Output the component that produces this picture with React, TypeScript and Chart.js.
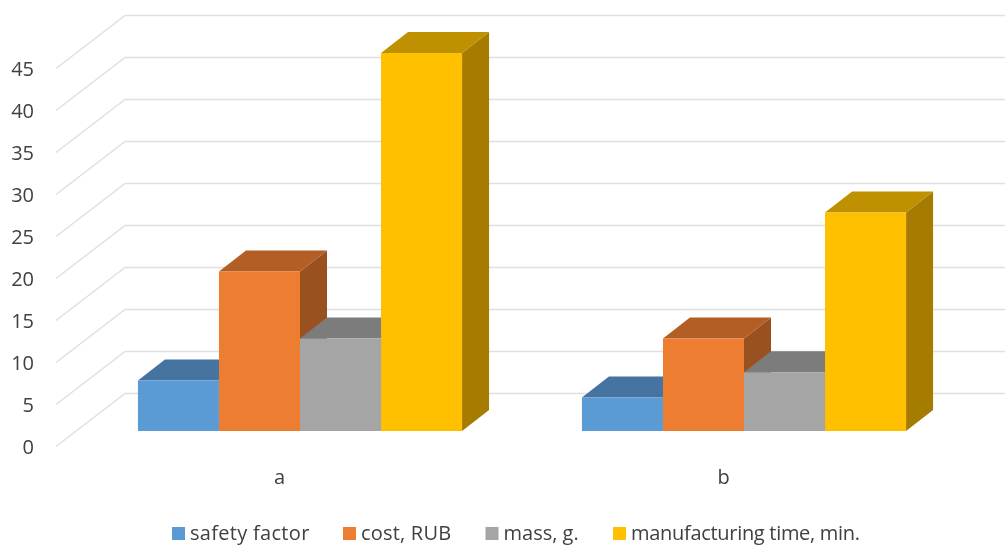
import React, { useEffect, useRef } from "react";
import { Chart, registerables } from "chart.js";

Chart.register(...registerables);

const categories = ["a", "b"];
const safetyFactor = [6, 4];
const costRub = [19, 11];
const massG = [11, 7];
const manufacturingTime = [45, 26];

const seriesLabels = ["safety factor", "cost, RUB", "mass, g.", "manufacturing time, min."];
const frontColors = ["#5B9BD5", "#ED7D31", "#A5A5A5", "#FFC000"];
const topColors = ["#44749F", "#B25E25", "#7C7C7C", "#BF9000"];
const sideColors = ["#3B658B", "#9A5120", "#6B6B6B", "#A67C00"];

const FONT = '"Open Sans", sans-serif';
const TEXT = "#404040";
const FONT_SIZE = 20;

// Oblique projection of the chart box
const BAR_DEPTH_X = 27;
const BAR_DEPTH_Y = -21;
const FLOOR_FRONT_DY = 15.5;
const WALL_BACK_DY = -37.5;
const WALL_LEFT = 56;
const WALL_BACK_X = 125;

// Left edge of each legend swatch and the tracking of its text
const LEGEND_X = [172, 343, 485.5, 613];
const LEGEND_TRACKING = ["0.3px", "0.2px", "0px", "-0.3px"];

const boxFrame = {
  id: "boxFrame",
  beforeDatasetsDraw(chart: any) {
    const { ctx, width } = chart;
    const y = chart.scales.y;
    ctx.save();
    ctx.strokeStyle = "#E0E0E0";
    ctx.lineWidth = 1.5;
    y.ticks.forEach((t: any) => {
      const py = y.getPixelForValue(t.value);
      ctx.beginPath();
      ctx.moveTo(WALL_LEFT, py + FLOOR_FRONT_DY);
      ctx.lineTo(WALL_BACK_X, py + WALL_BACK_DY);
      ctx.lineTo(width, py + WALL_BACK_DY);
      ctx.stroke();
    });

    // Top and right faces of each column, left to right
    const count = chart.data.labels.length;
    for (let c = 0; c < count; c++) {
      chart.data.datasets.forEach((_: any, d: number) => {
        const bar = chart.getDatasetMeta(d).data[c];
        const l = bar.x - bar.width / 2;
        const r = bar.x + bar.width / 2;
        const t = bar.y;
        const b = bar.base;
        ctx.fillStyle = sideColors[d];
        ctx.beginPath();
        ctx.moveTo(r, t);
        ctx.lineTo(r + BAR_DEPTH_X, t + BAR_DEPTH_Y);
        ctx.lineTo(r + BAR_DEPTH_X, b + BAR_DEPTH_Y);
        ctx.lineTo(r, b);
        ctx.closePath();
        ctx.fill();
        ctx.fillStyle = topColors[d];
        ctx.beginPath();
        ctx.moveTo(l, t);
        ctx.lineTo(l + BAR_DEPTH_X, t + BAR_DEPTH_Y);
        ctx.lineTo(r + BAR_DEPTH_X, t + BAR_DEPTH_Y);
        ctx.lineTo(r, t);
        ctx.closePath();
        ctx.fill();
      });
    }
    ctx.restore();
  },
};

// Legend row with a tighter swatch-to-text gap than the stock legend allows
const legendRow = {
  id: "legendRow",
  afterDraw(chart: any) {
    const { ctx } = chart;
    ctx.save();
    ctx.font = `${FONT_SIZE}px ${FONT}`;
    ctx.textBaseline = "middle";
    ctx.textAlign = "left";
    chart.data.datasets.forEach((ds: any, i: number) => {
      const x = LEGEND_X[i];
      ctx.fillStyle = ds.backgroundColor;
      ctx.fillRect(x, 527, 13, 13);
      ctx.fillStyle = TEXT;
      ctx.letterSpacing = LEGEND_TRACKING[i];
      ctx.fillText(ds.label, x + 18, 534);
    });
    ctx.restore();
  },
};

export default function App() {
  const ref = useRef<HTMLCanvasElement>(null);
  useEffect(() => {
    const values = [safetyFactor, costRub, massG, manufacturingTime];
    const chart = new Chart(ref.current!, {
      type: "bar",
      data: {
        labels: categories,
        datasets: seriesLabels.map((label, i) => ({
          label,
          data: values[i],
          backgroundColor: frontColors[i],
          categoryPercentage: 0.73,
          barPercentage: 1,
          borderWidth: 0,
        })),
      },
      options: {
        responsive: false,
        animation: false,
        layout: { padding: { top: 53, right: 39, left: 0, bottom: 0 } },
        plugins: { legend: { display: false }, tooltip: { enabled: false } },
        scales: {
          x: {
            grid: { display: false },
            border: { display: false },
            afterFit: (s: any) => { s.height = 114; },
            ticks: {
              color: TEXT,
              font: { family: FONT, size: FONT_SIZE },
              labelOffset: -20.5,
              padding: 27,
              maxRotation: 0,
            },
          },
          y: {
            min: 0,
            max: 45,
            grid: { display: false },
            border: { display: false },
            afterFit: (s: any) => { s.width = 78; },
            ticks: {
              stepSize: 5,
              color: TEXT,
              font: { family: FONT, size: FONT_SIZE },
              labelOffset: 17,
              padding: 36,
            },
          },
        },
      },
      plugins: [boxFrame, legendRow],
    } as any);
    return () => chart.destroy();
  }, []);
  return (
    <div style={{ position: "absolute", left: 0, top: 0, width: 1005, height: 545, overflow: "hidden", background: "#fff" }}>
      <canvas ref={ref} width={1005} height={545} style={{ display: "block" }} />
    </div>
  );
}
